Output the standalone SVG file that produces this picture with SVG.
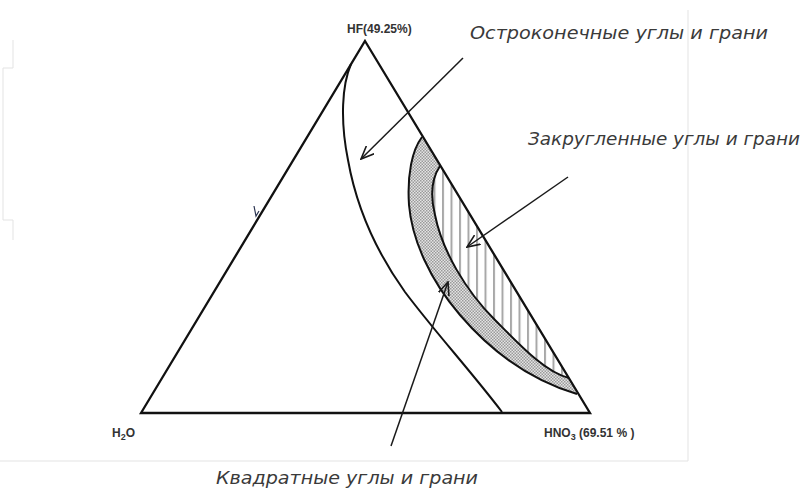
<svg xmlns="http://www.w3.org/2000/svg" width="808" height="493" viewBox="0 0 808 493">
<defs>
<pattern id="dots" width="3" height="3" patternUnits="userSpaceOnUse">
<rect width="3" height="3" fill="#e4e4e4"/>
<rect width="1.5" height="1.5" fill="#9a9a9a"/>
<rect x="1.5" y="1.5" width="1.5" height="1.5" fill="#9a9a9a"/>
</pattern>
<pattern id="vlines" width="8.5" height="10" patternUnits="userSpaceOnUse">
<rect width="8.5" height="10" fill="#ffffff"/>
<rect x="0" width="2" height="10" fill="#a8a8a8"/>
</pattern>
<marker id="arr" viewBox="0 0 14 12" refX="13" refY="6" markerWidth="14" markerHeight="12" markerUnits="userSpaceOnUse" orient="auto">
<path d="M0,0.5 L13,6 L0,11.5" fill="none" stroke="#1a1a1a" stroke-width="1.6"/>
</marker>
</defs>
<style>
.frame{fill:none;stroke:#e3e3e3;stroke-width:1}
.edge{fill:none;stroke:#111;stroke-width:2.3;stroke-linejoin:miter}
.curve{fill:none;stroke:#111;stroke-width:2}
.band{stroke:#111;stroke-width:2.2}
.conn{fill:none;stroke:#1a1a1a;stroke-width:1.5;marker-end:url(#arr)}
.lab{font-family:"DejaVu Sans","Liberation Sans",sans-serif;font-style:italic;font-size:17px;fill:#3a3a3a}
.vert{font-family:"Liberation Sans",Arial,sans-serif;font-weight:bold;font-size:12px;fill:#333}
</style>
<rect width="808" height="493" fill="#fff"/>
<g id="frame">
<path class="frame" d="M688,10 V461 H0"/>
<path class="frame" d="M13,40 V68 H3 V220 H13 V240"/>
</g>
<g id="regions">
<path id="dotted" fill="url(#dots)" stroke="none" d="M422,137 C412,150 407,175 409,205 C412,240 430,280 460,315 C490,350 530,380 577,394 L569,378 C545,372 520,345 495,320 C465,290 442,250 435,215 C430,195 432,178 440,166 Z"/>
<path id="hatched" fill="url(#vlines)" stroke="none" d="M440,166 C432,178 430,195 435,215 C442,250 465,290 495,320 C520,345 545,372 567,378 L569,378 Z"/>
<path class="curve" d="M422,137 C412,150 407,175 409,205 C412,240 430,280 460,315 C490,350 530,380 577,394" stroke-width="2.4"/>
<path class="curve" d="M440,166 C432,178 430,195 435,215 C442,250 465,290 495,320 C520,345 545,372 569,378" stroke-width="2.6"/>
<path id="outer-curve" class="curve" d="M351,64 C342,85 340,120 348,160 C356,205 375,250 405,292 C435,332 470,370 502,412"/>
</g>
<g id="triangle">
<path class="edge" d="M365,41 L590,413 L141,413 Z"/>
<path d="M254,206 L256,216 L259,211" fill="none" stroke="#2a3350" stroke-width="1.2"/>
</g>
<g id="connectors">
<line class="conn" x1="463" y1="58" x2="361" y2="159"/>
<line class="conn" x1="568" y1="177" x2="467" y2="247"/>
<line class="conn" x1="391" y1="446" x2="448" y2="282"/>
</g>
<g id="label-hf"><text class="vert" x="347" y="33" font-size="13">HF(49.25%)</text></g>
<g id="label-h2o"><text class="vert" x="112" y="437" font-size="13">H<tspan font-size="9" dy="3">2</tspan><tspan dy="-3">O</tspan></text></g>
<g id="label-hno3"><text class="vert" x="544" y="437" font-size="13">HNO<tspan font-size="9" dy="3">3</tspan><tspan dy="-3"> (69.51 % )</tspan></text></g>
<g id="label-sharp"><text class="lab" x="470" y="39" textLength="298" lengthAdjust="spacingAndGlyphs">Остроконечные углы и грани</text></g>
<g id="label-round"><text class="lab" x="528" y="145" textLength="272" lengthAdjust="spacingAndGlyphs">Закругленные углы и грани</text></g>
<g id="label-square"><text class="lab" x="216" y="484" textLength="262" lengthAdjust="spacingAndGlyphs">Квадратные углы и грани</text></g>
</svg>
